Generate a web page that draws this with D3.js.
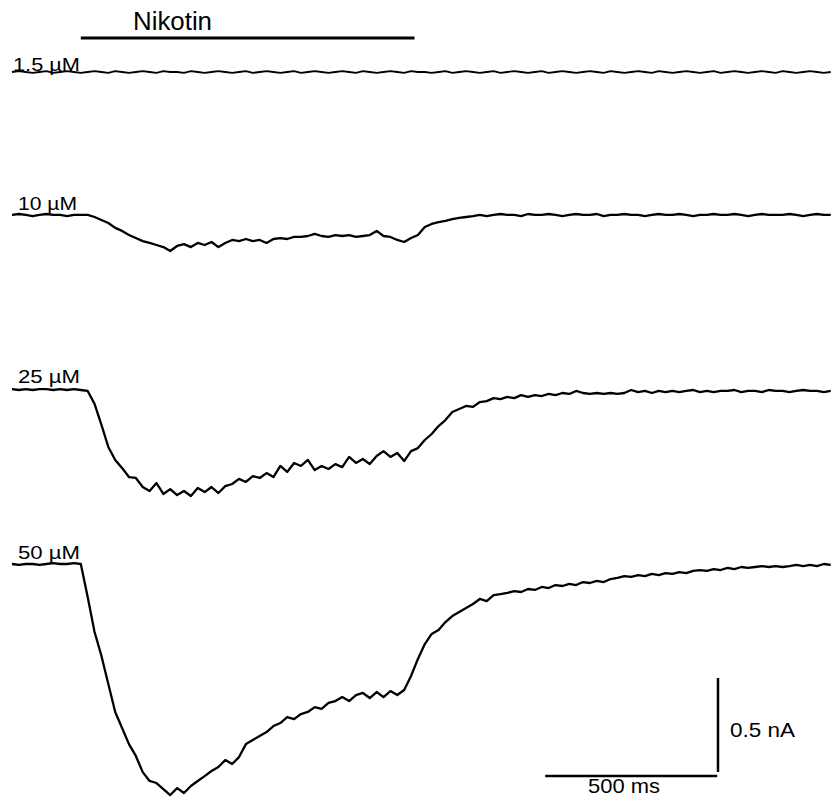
<!DOCTYPE html>
<html>
<head>
<meta charset="utf-8">
<script src="https://cdn.jsdelivr.net/npm/d3@7"></script>
<style>
  html, body { margin: 0; padding: 0; background: #fff; }
  svg { display: block; }
  text { font-family: "Liberation Sans", Arial, sans-serif; fill: #000; }
</style>
</head>
<body>
<svg id="chart" width="832" height="801"></svg>
<script>
// ---- data ----
const sampleMs = 20;                       // sampling interval of the traces (ms)
const concentrations = ["1.5 µM", "10 µM", "25 µM", "50 µM"];
const nicotineOnMs = 200, nicotineOffMs = 1170;
const nicotineLabel = "Nikotin";
const scaleTimeMs = 500, scaleTimeLabel = "500 ms";
const scaleCurrentPA = 500, scaleCurrentLabel = "0.5 nA";

// currents in pA, one value every sampleMs
const trace1_5 = [
  0,5,0,-5,0,5,-5,0,5,0, -5,0,5,0,-5,5,0,-5,0,5,
  0,-5,5,0,0,-5,5,0,-5,0, 5,0,-5,0,5,-5,0,5,0,-5,
  0,5,-5,0,5,0,-5,0,5,0, -5,5,0,-5,0,5,0,-5,5,0,
  0,-5,0,5,-5,0,5,0,-5,0, 5,-5,0,5,0,-5,0,5,-5,0,
  5,0,-5,0,5,0,-5,5,0,-5, 0,5,0,-5,5,0,-5,0,5,0,
  -5,0,5,-5,0,5,0,-5,0,5, 0,-5,5,0,-5,0,5,0,-5,0
];
const trace10 = [
  -5,0,-5,-11,-5,0,-5,-5,-11,-5,-5,-5,
  -16,-32,-48,-74,-90,-112,-128,-144,-154,-165,-176,
  -197,-170,-160,-176,-154,-165,-149,-176,-154,-138,-144,
  -133,-144,-138,-154,-133,-128,-133,-122,-122,-117,-106,
  -117,-122,-112,-117,-112,-122,-117,-112,-90,-117,-122,
  -138,-149,-128,-112,-69,-53,-43,-37,-27,-21,-16,-11,
  -5,-11,-5,0,-5,-5,-11,0,-5,-5,
  0,-5,-11,-5,0,-5,-5,0,-11,-5,
  -5,0,-5,-5,-11,-5,0,-5,-5,0,
  -5,-11,-5,-5,0,-5,-5,0,-5,-11,
  -5,0,-5,-5,-5,0,-5,-11,-5,0,
  -5,-5
];
const trace25 = [
  5,0,5,0,5,5,0,5,0,5,0,
  -5,-74,-186,-303,-372,-415,-463,-468,-516,-537,
  -495,-553,-527,-559,-537,-564,-521,-543,-516,-548,
  -511,-500,-473,-489,-458,-468,-442,-463,-404,-436,
  -388,-404,-372,-426,-404,-420,-394,-410,-356,-388,
  -367,-394,-351,-325,-356,-335,-378,-325,-309,-266,
  -234,-192,-160,-117,-101,-85,-90,-64,-59,-43,
  -48,-37,-43,-27,-37,-27,-32,-21,-27,-16,
  -21,-5,-16,-21,-16,-21,-16,-21,-16,0,
  -11,-5,-16,-5,-11,-5,-11,-5,0,-11,
  -5,-11,-5,-5,0,-11,-5,-5,-11,0,
  -5,-5,-11,-5,0,-5,-5,-11,-5
];
const trace50 = [
  0,-5,0,0,-5,0,5,0,0,5,0,
  -176,-362,-489,-638,-787,-872,-958,-1021,-1107,-1154,
  -1165,-1197,-1229,-1192,-1218,-1181,-1154,-1128,-1101,-1080,
  -1043,-1064,-1027,-958,-936,-915,-894,-862,-846,-814,
  -825,-798,-787,-761,-771,-739,-729,-708,-729,-697,
  -686,-713,-681,-708,-676,-697,-670,-596,-505,-426,
  -372,-351,-309,-277,-255,-234,-213,-186,-197,-165,
  -160,-154,-144,-149,-133,-138,-122,-128,-112,-117,
  -106,-112,-96,-101,-90,-96,-80,-74,-64,-69,
  -59,-64,-53,-59,-48,-53,-43,-48,-37,-32,
  -37,-27,-32,-21,-27,-16,-21,-16,-11,-16,
  -11,-16,-11,-5,-11,-5,-11,0,-5
];
const traces = [trace1_5, trace10, trace25, trace50];

// ---- layout ----
const svg = d3.select("#chart");
const pxPerMs = 0.344;
const x = d3.scaleLinear().domain([0, 2380]).range([12, 12 + 2380 * pxPerMs]);
const pxPerNA = 188;
const baselines = [72, 214, 390, 564];
const labelPos = [
  {x: 13, y: 71, len: 67},
  {x: 18, y: 210, len: 59},
  {x: 18, y: 383, len: 62},
  {x: 18, y: 559, len: 62}
];

traces.forEach((vals, ti) => {
  const y = d3.scaleLinear().domain([0, -1000]).range([baselines[ti], baselines[ti] + pxPerNA]);
  const line = d3.line()
    .x((d, i) => x(i * sampleMs))
    .y(d => y(d));
  svg.append("path")
    .datum(vals)
    .attr("d", line)
    .attr("fill", "none")
    .attr("stroke", "#000")
    .attr("stroke-width", ti === 0 ? 1.8 : 2.3)
    .attr("stroke-linejoin", "round");
  svg.append("text")
    .attr("x", labelPos[ti].x)
    .attr("y", labelPos[ti].y)
    .attr("font-size", 19)
    .attr("textLength", labelPos[ti].len)
    .attr("lengthAdjust", "spacingAndGlyphs")
    .text(concentrations[ti]);
});

// nicotine application bar
svg.append("line")
  .attr("x1", x(nicotineOnMs)).attr("x2", x(nicotineOffMs))
  .attr("y1", 38).attr("y2", 38)
  .attr("stroke", "#000").attr("stroke-width", 3);
svg.append("text")
  .attr("x", 133).attr("y", 30)
  .attr("font-size", 25)
  .attr("textLength", 79)
  .attr("lengthAdjust", "spacingAndGlyphs")
  .text(nicotineLabel);

// scale bars
const sbEnd = 2050;
svg.append("line")
  .attr("x1", x(sbEnd - scaleTimeMs)).attr("x2", x(sbEnd))
  .attr("y1", 776).attr("y2", 776)
  .attr("stroke", "#000").attr("stroke-width", 2.5);
const yBar = d3.scaleLinear().domain([0, scaleCurrentPA]).range([772, 772 - scaleCurrentPA / 1000 * pxPerNA]);
svg.append("line")
  .attr("x1", 718).attr("x2", 718)
  .attr("y1", yBar(0)).attr("y2", yBar(scaleCurrentPA))
  .attr("stroke", "#000").attr("stroke-width", 2.5);
svg.append("text")
  .attr("x", 588).attr("y", 793)
  .attr("font-size", 21)
  .attr("textLength", 72)
  .attr("lengthAdjust", "spacingAndGlyphs")
  .text(scaleTimeLabel);
svg.append("text")
  .attr("x", 730).attr("y", 737)
  .attr("font-size", 21)
  .attr("textLength", 65)
  .attr("lengthAdjust", "spacingAndGlyphs")
  .text(scaleCurrentLabel);
</script>
</body>
</html>
